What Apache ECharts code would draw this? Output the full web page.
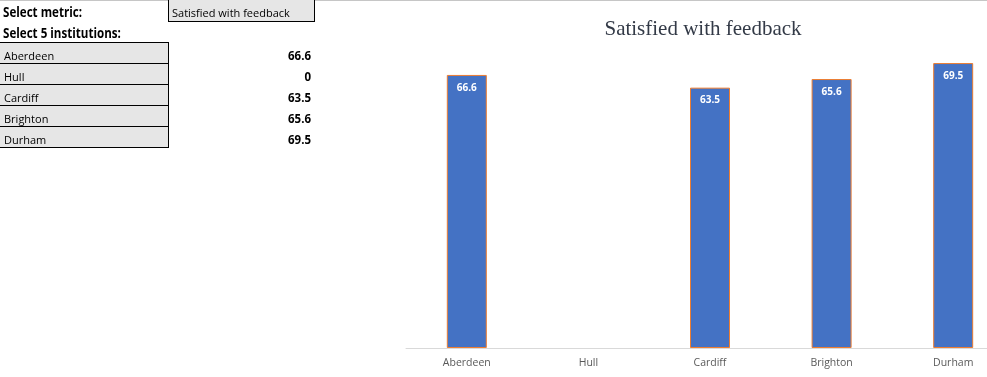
<!DOCTYPE html>
<html>
<head>
<meta charset="utf-8">
<script src="https://cdn.jsdelivr.net/npm/echarts@6/dist/echarts.min.js"></script>
<style>
  html, body { margin: 0; padding: 0; background: #fff; }
  #wrap { position: relative; width: 987px; height: 377px; overflow: hidden; font-family: "Open Sans", sans-serif; }
  #chart { position: absolute; left: 0; top: 0; width: 1014px; height: 377px; }
  #topline { position: absolute; left: 0; top: 0; width: 987px; height: 1px; background: #c6c6c6; }
  .hdr { position: absolute; left: 3px; font-weight: bold; font-size: 14.5px; color: #000; white-space: nowrap; transform-origin: left center; transform: scaleX(0.8); line-height: 20px; }
  .cell { position: absolute; box-sizing: border-box; background: #e6e6e6; border: 1px solid #000; font-size: 11px; color: #000; white-space: nowrap; }
  .cell span { position: absolute; left: 2px; bottom: 0px; line-height: 16px; }
  .val { position: absolute; font-weight: bold; font-size: 11.5px; color: #000; text-align: right; width: 80px; left: 231px; line-height: 16px; }
</style>
</head>
<body>
<div id="wrap">
  <div id="chart"></div>
  <div id="topline"></div>
  <div id="table"></div>
</div>
<script>
const metricName = "Satisfied with feedback";
const headerMetric = "Select metric:";
const headerInst = "Select 5 institutions:";
const categories = ["Aberdeen", "Hull", "Cardiff", "Brighton", "Durham"];
const values = [66.6, 0, 63.5, 65.6, 69.5];

// Left-hand spreadsheet-like panel
const table = document.getElementById('table');
function add(html) { table.insertAdjacentHTML('beforeend', html); }
add('<div class="hdr" style="top:2px">' + headerMetric + '</div>');
add('<div class="cell" style="left:168px;top:-1px;width:147px;height:23px;"><span style="left:3px;bottom:0px">' + metricName + '</span></div>');
add('<div class="hdr" style="top:23px">' + headerInst + '</div>');
categories.forEach(function (c, i) {
  const top = 42 + i * 21;
  add('<div class="cell" style="left:-1px;top:' + top + 'px;width:170px;height:22px;"><span style="left:4px;bottom:-1px">' + c + '</span></div>');
  add('<div class="val" style="top:' + (top + 6) + 'px">' + values[i] + '</div>');
});

const chart = echarts.init(document.getElementById('chart'));
chart.setOption({
  animation: false,
  title: {
    text: metricName,
    left: 698,
    top: 14,
    textAlign: 'center',
    textStyle: { fontFamily: 'Liberation Serif', fontWeight: 'normal', fontSize: 21, color: '#333a47' }
  },
  grid: { left: 406, top: 61, right: 0, bottom: 29, containLabel: false },
  xAxis: {
    type: 'category',
    data: categories,
    axisLine: { lineStyle: { color: '#d9d9d9', width: 1 } },
    axisTick: { show: false },
    axisLabel: { color: '#595959', fontFamily: 'Open Sans', fontSize: 10.5, margin: 10 }
  },
  yAxis: { type: 'value', min: 0, max: 70, show: false, splitLine: { show: false } },
  series: [{
    type: 'bar',
    data: values.map(function (v) {
      return v === 0 ? { value: v, itemStyle: { borderWidth: 0 } } : v;
    }),
    barWidth: 40,
    itemStyle: { color: '#4472C4', borderColor: '#ED7D31', borderWidth: 1 },
    label: {
      show: true,
      position: 'insideTop',
      distance: 8,
      color: '#ffffff',
      fontFamily: 'Open Sans',
      fontWeight: 'bold',
      fontSize: 10,
      formatter: function (p) { return p.value === 0 ? '' : String(p.value); }
    }
  }]
});
</script>
</body>
</html>
